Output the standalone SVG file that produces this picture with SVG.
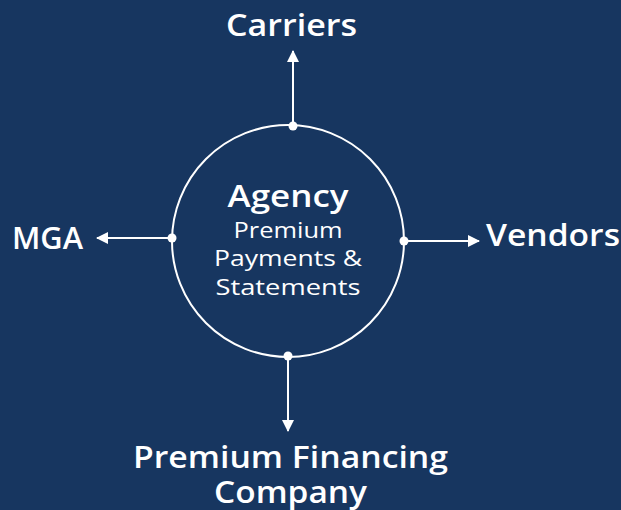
<svg xmlns="http://www.w3.org/2000/svg" width="621" height="510" viewBox="0 0 621 510">
<defs>
<style>
.t{font-family:"Open Sans","Noto Sans","Liberation Sans",sans-serif;fill:#ffffff;text-anchor:middle}
.b{font-weight:600;font-size:30px}
.r{font-weight:400;font-size:22px}
.ln{stroke:#ffffff;stroke-width:2;fill:none}
.dot{fill:#ffffff}
</style>
<marker id="ah" viewBox="0 0 12 12" refX="11" refY="6" markerWidth="12" markerHeight="12" markerUnits="userSpaceOnUse" orient="auto">
<path d="M0,0 L12,6 L0,12 Z" fill="#ffffff"/>
</marker>
</defs>
<rect width="621" height="510" fill="#173660"/>
<g id="agency">
<circle cx="288" cy="241" r="116" class="ln"/>
<text class="t b" x="288" y="207" textLength="121" lengthAdjust="spacingAndGlyphs">Agency</text>
<text class="t r" x="288" y="238" textLength="109" lengthAdjust="spacingAndGlyphs">Premium</text>
<text class="t r" x="288" y="266" textLength="148" lengthAdjust="spacingAndGlyphs">Payments &amp;</text>
<text class="t r" x="288" y="295" textLength="145" lengthAdjust="spacingAndGlyphs">Statements</text>
</g>
<g id="connectors">
<line class="ln" x1="293" y1="126" x2="293" y2="51" marker-end="url(#ah)"/>
<line class="ln" x1="172" y1="238" x2="97" y2="238" marker-end="url(#ah)"/>
<line class="ln" x1="404" y1="241" x2="479" y2="241" marker-end="url(#ah)"/>
<line class="ln" x1="288" y1="356" x2="288" y2="431" marker-end="url(#ah)"/>
<circle class="dot" cx="293" cy="126" r="4.5"/>
<circle class="dot" cx="172" cy="238" r="4.5"/>
<circle class="dot" cx="404" cy="241" r="4.5"/>
<circle class="dot" cx="288" cy="356" r="4.5"/>
</g>
<g id="carriers"><text class="t b" x="291.5" y="36" textLength="131" lengthAdjust="spacingAndGlyphs">Carriers</text></g>
<g id="mga"><text class="t b" x="47.5" y="249" textLength="71" lengthAdjust="spacingAndGlyphs">MGA</text></g>
<g id="vendors"><text class="t b" x="553" y="246" textLength="134" lengthAdjust="spacingAndGlyphs">Vendors</text></g>
<g id="pfc">
<text class="t b" x="290.5" y="468" textLength="315" lengthAdjust="spacingAndGlyphs">Premium Financing</text>
<text class="t b" x="290.5" y="503" textLength="153" lengthAdjust="spacingAndGlyphs">Company</text>
</g>
</svg>
